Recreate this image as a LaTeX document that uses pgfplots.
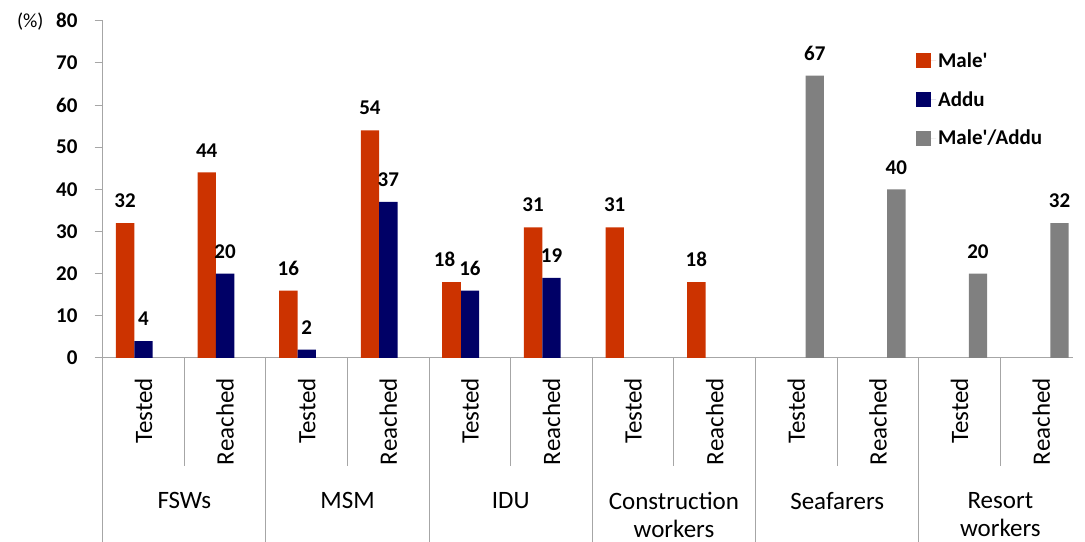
\documentclass[border=0pt]{standalone}
\usepackage{fontspec}
\setmainfont{Carlito}
\usepackage{pgfplots}
\pgfplotsset{compat=1.18}
\definecolor{cmale}{HTML}{CC3300}
\definecolor{caddu}{HTML}{000066}
\definecolor{cboth}{HTML}{808080}
\definecolor{axgray}{HTML}{A6A6A6}
\begin{document}
\begin{tikzpicture}
\begin{axis}[
  name=ax,
  scale only axis,
  width=970.3pt, height=337.3pt,
  xmin=-0.5, xmax=11.39,
  ymin=0, ymax=80,
  ytick={0,10,...,80},
  /pgf/number format/assume math mode=true,
  axis x line*=bottom, axis y line*=left,
  axis line style={axgray, line width=1pt},
  xtick={0,...,11},
  xticklabels={Tested,Reached,Tested,Reached,Tested,Reached,Tested,Reached,Tested,Reached,Tested,Reached},
  x tick style={draw=none},
  y tick style={axgray, line width=1pt},
  tick align=outside, major tick length=8pt,
  xticklabel style={rotate=90, anchor=east, inner sep=0pt, font=\fontsize{25}{29}\selectfont, xshift=-12pt},
  yticklabel style={font=\fontsize{21}{25}\selectfont\bfseries, inner sep=0pt, xshift=-17pt},
  bar width=0.225,
  clip=false,
  nodes near coords,
  every node near coord/.append style={font=\fontsize{21}{25}\selectfont\bfseries, text=black, anchor=south, inner sep=0pt, yshift=15pt},
  legend style={at={(rel axis cs:0.835,0.918)}, anchor=north west, draw=none, fill=none,
    font=\fontsize{21}{25}\selectfont\bfseries, row sep=18.5pt,
    nodes={inner sep=2pt}},
  legend cell align=left,
  legend image code/.code={\fill[#1] (0pt,-7.5pt) rectangle (15pt,7.5pt); \path (15pt,0pt) -- (20pt,0pt);},
]
\addplot[ybar, bar shift=-0.225, fill=cmale, draw=none, every node near coord/.append style={xshift=-18.4pt}] coordinates {(0,32) (1,44) (2,16) (3,54) (5,31) (6,31) (7,18)};
\addplot[ybar, bar shift=0, fill=caddu, draw=none] coordinates {(0,4) (1,20) (2,2) (3,37) (4,16) (5,19)};
\addplot[ybar, bar shift=0.225, fill=cboth, draw=none, every node near coord/.append style={xshift=18.4pt}] coordinates {(8,67) (9,40) (10,20) (11,32)};
\addplot[forget plot, ybar, bar shift=-0.225, fill=cmale, draw=none, every node near coord/.append style={xshift=-25.4pt}] coordinates {(4,18)};
\legend{Male\textquotesingle, Addu, Male\textquotesingle/Addu}
\pgfplotsinvokeforeach{-0.5,1.5,3.5,5.5,7.5,9.5}{
  \draw[axgray, line width=1pt] (axis cs:#1,0) -- ++(0pt,-184pt);
}
\pgfplotsinvokeforeach{0.5,2.5,4.5,6.5,8.5,10.5}{
  \draw[axgray, line width=1pt] (axis cs:#1,0) -- ++(0pt,-108pt);
}
\tikzset{grp/.style={anchor=north, align=center, inner sep=0pt, font=\fontsize{25}{28}\selectfont, yshift=-134pt}}
\node[grp] at (axis cs:0.5,0) {FSWs};
\node[grp] at (axis cs:2.5,0) {MSM};
\node[grp] at (axis cs:4.5,0) {IDU};
\node[grp] at (axis cs:6.5,0) {Construction\\workers};
\node[grp] at (axis cs:8.5,0) {Seafarers};
\node[grp] at (axis cs:10.5,0) {Resort\\workers};
\node[anchor=east, inner sep=0pt, font=\fontsize{20}{24}\selectfont, xshift=-59pt, yshift=-1pt] at (axis cs:-0.5,80) {(\%)};
\end{axis}
\pgfresetboundingbox
\path ([xshift=-102.7pt,yshift=-184pt]ax.south west) rectangle ([xshift=12pt,yshift=20.7pt]ax.north east);
\end{tikzpicture}
\end{document}
